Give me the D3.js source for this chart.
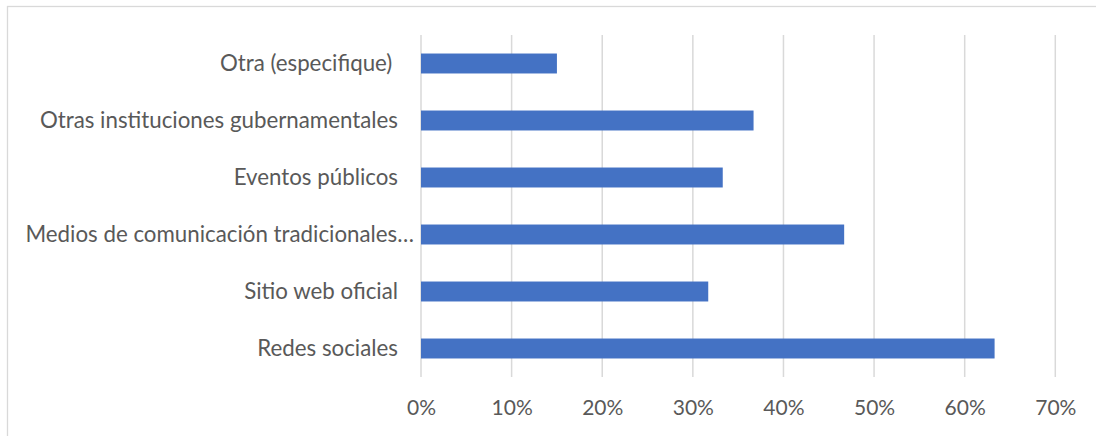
<!DOCTYPE html>
<html>
<head>
<meta charset="utf-8">
<script src="https://cdn.jsdelivr.net/npm/d3@7/dist/d3.min.js"></script>
<style>
  html, body { margin: 0; padding: 0; background: #fff; }
  svg { display: block; }
  text { font-family: Lato, "Open Sans", sans-serif; fill: #595959; white-space: pre; }
</style>
</head>
<body>
<svg id="chart" width="1096" height="436"></svg>
<script>
// Survey answers: where respondents hear about the institution (share of respondents)
const categories = [
  "Redes sociales",
  "Sitio web oficial",
  "Medios de comunicación tradicionales…",
  "Eventos públicos",
  "Otras instituciones gubernamentales",
  "Otra (especifique) "
];
const values = [63.3, 31.7, 46.7, 33.3, 36.7, 15.0];
const tickValues = [0, 10, 20, 30, 40, 50, 60, 70];
const tickLabels = ["0%", "10%", "20%", "30%", "40%", "50%", "60%", "70%"];

const svg = d3.select("#chart");
const W = 1096, H = 436;
const plot = { left: 421, right: 1055.3, top: 35, bottom: 377 };

// Chart frame
svg.append("rect")
  .attr("x", 7.5).attr("y", 6.5)
  .attr("width", W + 20).attr("height", H + 20)
  .attr("fill", "#fff").attr("stroke", "#d9d9d9").attr("stroke-width", 1.3);

const x = d3.scaleLinear().domain([0, 70]).range([plot.left, plot.right]);
// First category sits at the bottom, as in a spreadsheet bar chart
const y = d3.scaleBand()
  .domain(categories.slice().reverse())
  .range([plot.top, plot.bottom])
  .paddingInner(0.65)
  .paddingOuter(0.325);

// Vertical gridlines
svg.append("g")
  .selectAll("line")
  .data(tickValues)
  .join("line")
  .attr("x1", d => x(d)).attr("x2", d => x(d))
  .attr("y1", plot.top).attr("y2", plot.bottom)
  .attr("stroke", "#d9d9d9").attr("stroke-width", 1.5);

// Bars
svg.append("g")
  .selectAll("rect")
  .data(categories.map((c, i) => ({ c, v: values[i] })))
  .join("rect")
  .attr("x", x(0))
  .attr("y", d => y(d.c))
  .attr("width", d => x(d.v) - x(0))
  .attr("height", y.bandwidth())
  .attr("fill", "#4472c4");

// X axis labels
const xAxis = d3.axisBottom(x)
  .tickValues(tickValues)
  .tickFormat((d, i) => tickLabels[i])
  .tickSize(0)
  .tickPadding(0);
const gx = svg.append("g")
  .attr("transform", `translate(0, ${plot.bottom})`)
  .call(xAxis);
gx.select(".domain").remove();
gx.selectAll("text")
  .attr("y", 31)
  .attr("dy", "0.35em")
  .style("font-size", "21px")
  .style("font-family", "Lato, sans-serif")
  .attr("fill", "#595959");

// Category labels
const yAxis = d3.axisLeft(y).tickSize(0).tickPadding(0);
const gy = svg.append("g")
  .attr("transform", `translate(${plot.left}, 0)`)
  .call(yAxis);
gy.select(".domain").remove();
gy.selectAll("text")
  .attr("x", d => d.endsWith("…") ? -7 : -23)
  .attr("dy", "0.35em")
  .style("font-size", "22.3px")
  .style("font-family", "Lato, sans-serif")
  .attr("fill", "#595959");
</script>
</body>
</html>
